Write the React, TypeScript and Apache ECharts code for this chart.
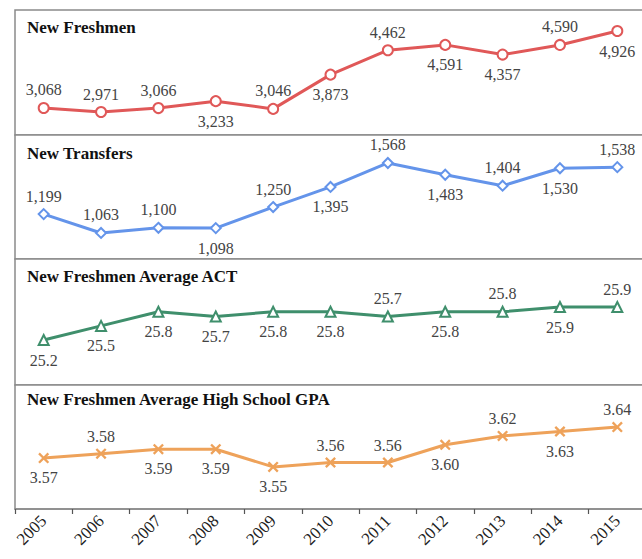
import React, { useEffect, useRef } from "react";
import * as echarts from "echarts";

const years = ["2005", "2006", "2007", "2008", "2009", "2010", "2011", "2012", "2013", "2014", "2015"];
const freshmen = [3068, 2971, 3066, 3233, 3046, 3873, 4462, 4591, 4357, 4590, 4926];
const transfers = [1199, 1063, 1100, 1098, 1250, 1395, 1568, 1483, 1404, 1530, 1538];
const act = [25.2, 25.5, 25.8, 25.7, 25.8, 25.8, 25.7, 25.8, 25.8, 25.9, 25.9];
const gpa = [3.57, 3.58, 3.59, 3.59, 3.55, 3.56, 3.56, 3.6, 3.62, 3.63, 3.64];
const titles = [
  "New Freshmen",
  "New Transfers",
  "New Freshmen Average ACT",
  "New Freshmen Average High School GPA",
];
// label placement: true = above the point, false = below
const freshmenAbove = [true, true, true, false, true, false, true, false, false, true, false];
const transfersAbove = [true, true, true, false, true, false, true, false, true, false, true];
const actAbove = [false, false, false, false, false, false, true, false, true, false, true];
const gpaAbove = [false, true, false, false, false, true, true, false, true, false, true];

const FONT = "'Liberation Serif', 'Times New Roman', serif";
const BORDER = "#8a8a8a";

export default function App() {
  const ref = useRef<HTMLDivElement>(null);
  useEffect(() => {
    if (!ref.current) return;
    const chart = echarts.init(ref.current, undefined, { renderer: "svg" });

    const panels = [
      { top: 10, height: 125, min: 2416, max: 5433, values: freshmen, above: freshmenAbove, color: "#e05858", symbol: "emptyCircle", fmt: (v: number) => v.toLocaleString("en-US") },
      { top: 135, height: 124, min: 875, max: 1770, values: transfers, above: transfersAbove, color: "#6494ea", symbol: "emptyDiamond", fmt: (v: number) => v.toLocaleString("en-US") },
      { top: 259, height: 126, min: 24.245, max: 26.92, values: act, above: actAbove, color: "#3f8f6c", symbol: "emptyTriangle", fmt: (v: number) => v.toFixed(1) },
      { top: 385, height: 124, min: 3.455, max: 3.735, values: gpa, above: gpaAbove, color: "#eea25a", symbol: "path://M1.5,0 L5,3.5 L8.5,0 L10,1.5 L6.5,5 L10,8.5 L8.5,10 L5,6.5 L1.5,10 L0,8.5 L3.5,5 L0,1.5 Z", fmt: (v: number) => v.toFixed(2) },
    ];

    const grids = panels.map((p) => ({
      left: 15,
      top: p.top,
      width: 631,
      height: p.height,
      show: true,
      borderColor: BORDER,
      borderWidth: 1.5,
      backgroundColor: "#fff",
      containLabel: false,
      outerBoundsMode: "none",
    }));

    const xAxes = panels.map((p, i) => {
      const last = i === panels.length - 1;
      return {
        type: "category" as const,
        gridIndex: i,
        data: years,
        boundaryGap: true,
        axisLine: { show: last, lineStyle: { color: BORDER, width: 1.5 } },
        axisTick: { show: last, length: 5, lineStyle: { color: "#555", width: 1.2 } },
        axisLabel: {
          show: last,
          rotate: 45,
          margin: 9,
          fontSize: 17,
          fontFamily: FONT,
          color: "#222",
        },
        splitLine: { show: false },
      };
    });

    const yAxes = panels.map((p, i) => ({
      type: "value" as const,
      gridIndex: i,
      min: p.min,
      max: p.max,
      show: false,
      splitLine: { show: false },
    }));

    const series = panels.map((p, i) => ({
      type: "line" as const,
      xAxisIndex: i,
      yAxisIndex: i,
      data: p.values.map((v, j) => ({
        value: v,
        label: { position: p.above[j] ? "top" : "bottom", distance: p.above[j] ? 4 : 6 },
      })),
      symbol: p.symbol,
      symbolSize: i === 3 ? 11 : 10,
      lineStyle: { color: p.color, width: 3 },
      itemStyle: i === 3
        ? { color: p.color, borderColor: p.color, borderWidth: 0 }
        : { color: p.color, borderColor: p.color, borderWidth: 2 },
      label: {
        show: true,
        fontSize: 16,
        fontFamily: FONT,
        color: "#444",
        formatter: (params: any) => p.fmt(params.value),
      },
      z: 5,
    }));

    const titleY = [29, 155, 278, 401];
    const graphics = titles.map((t, i) => ({
      type: "text" as const,
      left: 27,
      top: titleY[i] - 10,
      z: 10,
      style: {
        text: t,
        fontSize: 17,
        fontWeight: "bold",
        fontFamily: FONT,
        fill: "#111",
      },
    }));

    chart.setOption({
      animation: false,
      backgroundColor: "#fff",
      grid: grids,
      xAxis: xAxes,
      yAxis: yAxes,
      series,
      graphic: graphics,
    });

    return () => chart.dispose();
  }, []);

  return (
    <div
      ref={ref}
      style={{ position: "fixed", left: 0, top: 0, width: 642, height: 559, background: "#fff" }}
    />
  );
}
